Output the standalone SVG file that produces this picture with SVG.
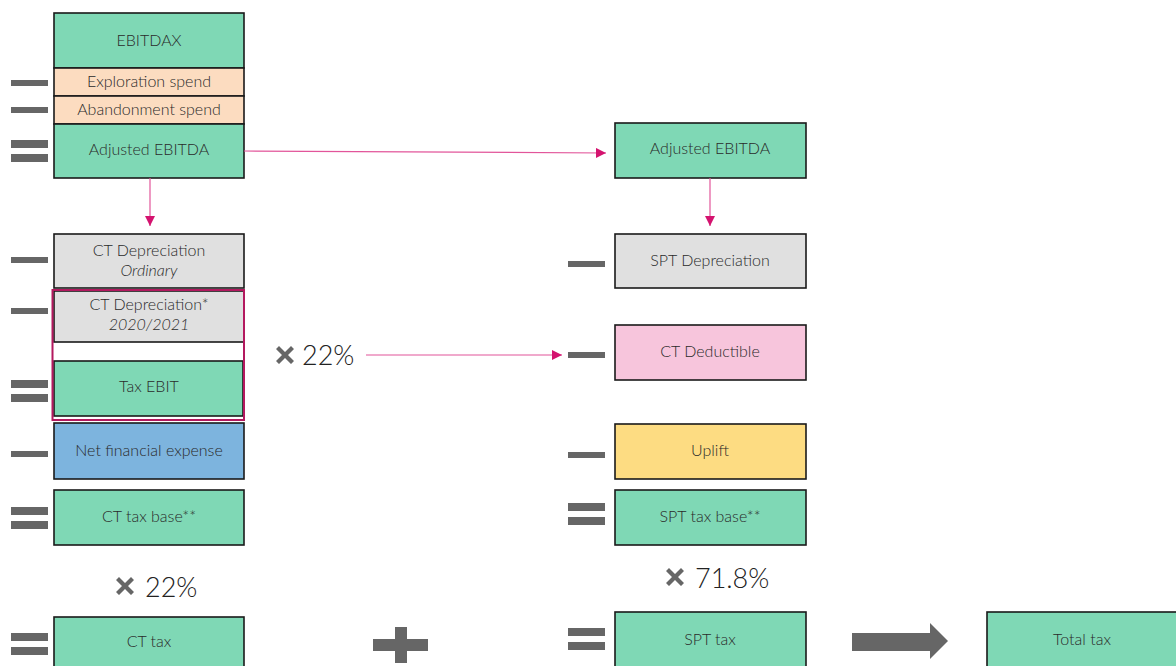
<svg xmlns="http://www.w3.org/2000/svg" width="1176" height="666" viewBox="0 0 1176 666">
<defs>
<style>
.box{stroke:#1a1a1a;stroke-width:1.6}
.g{fill:#7fd8b5}.p{fill:#fcdcc0}.gr{fill:#e0e0e0}.pk{fill:#f7c5dc}.y{fill:#fddc82}.b{fill:#7db4de}
.t{font-family:Lato,"Open Sans",sans-serif;font-weight:300;font-size:16px;fill:#2a2a2a;text-anchor:middle;dominant-baseline:central}
.it{font-style:italic}
.big{font-family:Lato,"Open Sans",sans-serif;font-weight:300;font-size:27px;fill:#222;dominant-baseline:central}
.op{fill:#666}
.con{stroke:#e2559a;stroke-width:1.2;fill:none}
</style>
<marker id="ah" viewBox="0 0 10 10" refX="10" refY="5" markerWidth="10" markerHeight="10" markerUnits="userSpaceOnUse" orient="auto">
<path d="M0,0 L10,5 L0,10 Z" fill="#d4136f"/>
</marker>
<g id="minus"><rect x="0" y="-3" width="37" height="6"/></g>
<g id="equals"><rect x="0" y="-11" width="37" height="8"/><rect x="0" y="3" width="37" height="8"/></g>
<g id="times"><path d="M-9,-6 L-6,-9 L0,-3 L6,-9 L9,-6 L3,0 L9,6 L6,9 L0,3 L-6,9 L-9,6 L-3,0 Z"/></g>
</defs>
<rect width="1176" height="666" fill="#fff"/>

<g id="operators" class="op">
<use href="#minus" x="11" y="83"/>
<use href="#minus" x="11" y="110"/>
<use href="#equals" x="11" y="151"/>
<use href="#minus" x="11" y="260"/>
<use href="#minus" x="11" y="311"/>
<use href="#equals" x="11" y="391"/>
<use href="#minus" x="11" y="454"/>
<use href="#equals" x="11" y="518"/>
<use href="#equals" x="11" y="644"/>
<use href="#minus" x="568" y="264"/>
<use href="#minus" x="568" y="355"/>
<use href="#minus" x="568" y="455"/>
<use href="#equals" x="568" y="514"/>
<use href="#equals" x="568" y="639"/>
<use href="#times" x="285" y="355"/>
<use href="#times" x="125" y="586"/>
<use href="#times" x="675" y="577"/>
<path d="M373,639 H395 V627 H407 V639 H428 V651 H407 V663 H395 V651 H373 Z"/>
<path d="M852,633 H930 V623 L948,641 L930,659 V651 H852 Z"/>
</g>

<g id="labels">
<text class="big" x="302" y="354">22%</text>
<text class="big" x="145" y="586">22%</text>
<text class="big" x="695" y="577">71.8%</text>
</g>

<g id="n-ebitdax"><rect class="box g" x="54" y="13" width="190" height="55"/><text class="t" x="149" y="39">EBITDAX</text></g>
<g id="n-exploration"><rect class="box p" x="54" y="68" width="190" height="28"/><text class="t" x="149" y="80.5">Exploration spend</text></g>
<g id="n-abandonment"><rect class="box p" x="54" y="96" width="190" height="28"/><text class="t" x="149" y="108.5">Abandonment spend</text></g>
<g id="n-adj-left"><rect class="box g" x="54" y="124" width="190" height="54"/><text class="t" x="149" y="148.5">Adjusted EBITDA</text></g>
<g id="n-ctdep-ord"><rect class="box gr" x="54" y="234" width="190" height="54"/><text class="t" x="149" y="249.5">CT Depreciation</text><text class="t it" x="149" y="269.5">Ordinary</text></g>
<g id="n-ctdep-2020"><rect class="box gr" x="54" y="291" width="190" height="51"/><text class="t" x="149" y="303.5">CT Depreciation*</text><text class="t it" x="149" y="323.5">2020/2021</text></g>
<g id="n-taxebit"><rect class="box g" x="54" y="361" width="189" height="55"/><text class="t" x="149" y="385.5">Tax EBIT</text></g>
<g id="n-highlight"><rect x="52.5" y="290" width="191.5" height="130" fill="none" stroke="#b3195f" stroke-width="2"/></g>
<g id="n-netfin"><rect class="box b" x="54" y="423" width="190" height="56"/><text class="t" x="149" y="449.5">Net financial expense</text></g>
<g id="n-cttaxbase"><rect class="box g" x="54" y="490" width="190" height="55"/><text class="t" x="149" y="515.5">CT tax base**</text></g>
<g id="n-cttax"><rect class="box g" x="54" y="617" width="190" height="60"/><text class="t" x="149" y="640.5">CT tax</text></g>

<g id="n-adj-right"><rect class="box g" x="615" y="123" width="191" height="55"/><text class="t" x="710" y="147.5">Adjusted EBITDA</text></g>
<g id="n-sptdep"><rect class="box gr" x="615" y="234" width="191" height="54"/><text class="t" x="710" y="259.5">SPT Depreciation</text></g>
<g id="n-ctded"><rect class="box pk" x="615" y="325" width="191" height="55"/><text class="t" x="710" y="350.5">CT Deductible</text></g>
<g id="n-uplift"><rect class="box y" x="615" y="424" width="191" height="55"/><text class="t" x="710" y="449.5">Uplift</text></g>
<g id="n-spttaxbase"><rect class="box g" x="615" y="490" width="191" height="55"/><text class="t" x="710" y="515.5">SPT tax base**</text></g>
<g id="n-spttax"><rect class="box g" x="615" y="612" width="191" height="60"/><text class="t" x="710" y="638.5">SPT tax</text></g>
<g id="n-totaltax"><rect class="box g" x="987" y="612" width="200" height="60"/><text class="t" x="1082" y="638.5">Total tax</text></g>

<g id="connectors">
<path class="con" d="M244,151 L606,153" marker-end="url(#ah)"/>
<path class="con" d="M150,178 V226" marker-end="url(#ah)"/>
<path class="con" d="M710,178 V226" marker-end="url(#ah)"/>
<path class="con" d="M366,355 H562" marker-end="url(#ah)"/>
</g>
</svg>
